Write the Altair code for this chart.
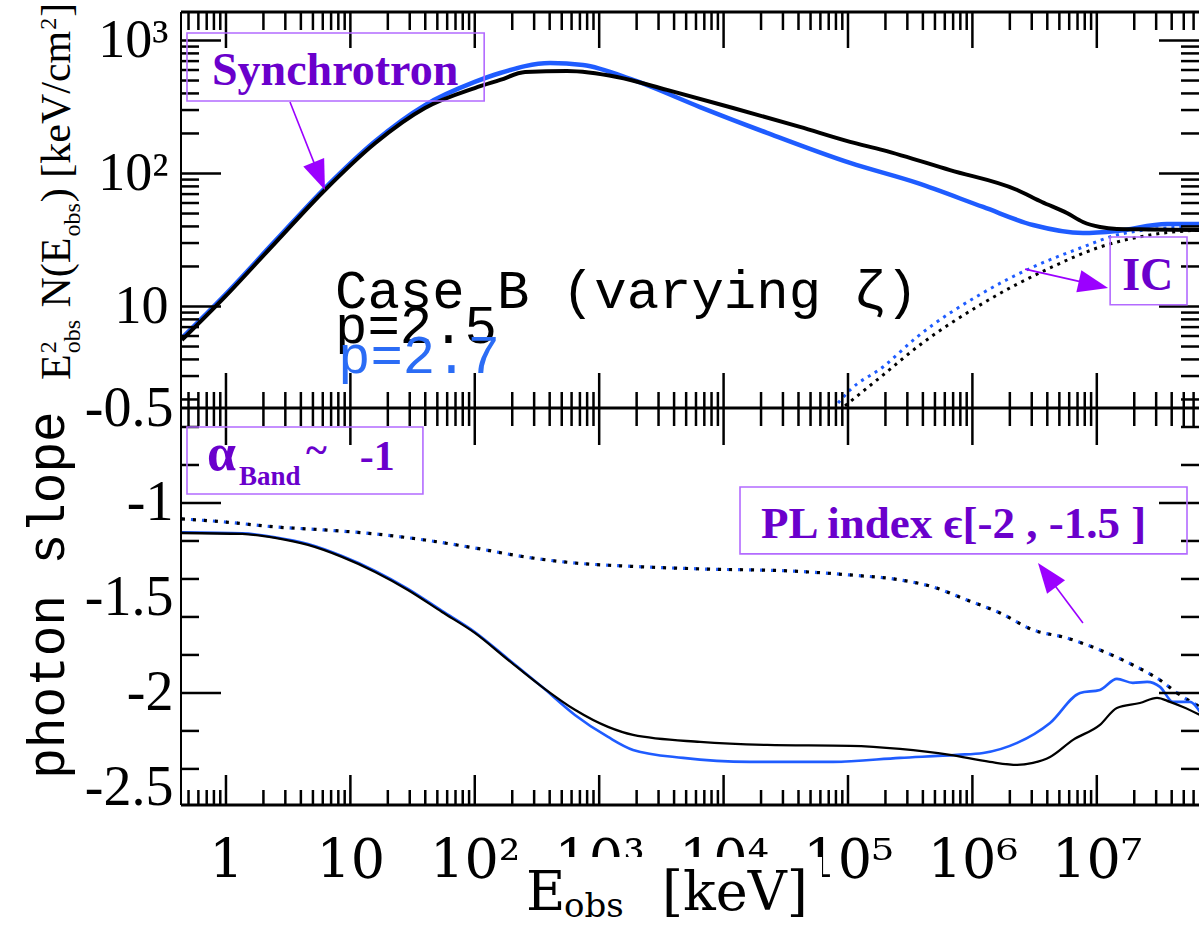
import altair as alt
import pandas as pd

# ---------------- axis ranges ----------------
E_MIN, E_MAX = 0.435, 6.63e7          # keV
F_MIN, F_MAX = 1.725, 1638.0          # keV/cm^2 (top panel)
S_MIN, S_MAX = -2.59, -0.5            # photon slope (bottom panel)

# ---------------- top panel: E^2 N(E) ----------------
SYN_BLACK_E = [0.443, 0.98, 2.48, 6.25, 15.8, 39.8, 100, 160, 254, 551, 1390, 3508, 11912,
               41115, 1.04e5, 1.91e5, 6.61e5, 2.29e6, 3.62e6, 5.75e6, 7.74e6, 1.06e7, 1.45e7,
               2.68e7, 6.76e7]
SYN_BLACK_F = [5.60, 11.8, 30.0, 75.2, 169, 311, 439, 505, 580, 590, 532, 425, 311,
               224, 173, 150, 106, 75.2, 61.1, 50.5, 43.2, 39.6, 38.3, 38.0, 37.6]
SYN_BLUE_E = [0.443, 0.98, 2.48, 6.25, 15.8, 39.8, 100, 160, 403, 741, 1871, 6457, 22336,
              1.04e5, 3.59e5, 1.22e6, 3.07e6, 7.74e6, 1.45e7, 3.66e7, 6.76e7]
SYN_BLUE_F = [5.80, 12.2, 31.0, 77.8, 175, 327, 488, 570, 678, 654, 505, 316, 202,
              120, 84.9, 56.0, 41.0, 35.7, 37.0, 41.7, 41.7]
IC_BLUE_E = [83176, 1.04e5, 1.91e5, 3.59e5, 1.22e6, 3.07e6, 7.74e6, 1.45e7, 4.93e7]
IC_BLUE_F = [1.88, 2.36, 3.51, 5.90, 12.7, 19.8, 28.0, 34.5, 39.6]
IC_BLACK_E = [94600, 1.91e5, 3.59e5, 1.22e6, 4.21e6, 1.06e7, 2.68e7, 6.76e7]
IC_BLACK_F = [1.79, 3.05, 4.95, 10.6, 19.5, 28.0, 34.5, 37.6]

# ---------------- bottom panel: photon slope ----------------
SL_BLACK_E = [0.443, 1.35, 2.48, 4.56, 8.55, 15.8, 29.0, 54.5, 100, 185, 347, 638, 1178, 1871,
              6457, 22336, 1.04e5, 2.62e5, 6.61e5, 1.38e6, 2.29e6, 3.07e6, 4.21e6, 6.44e6,
              1.06e7, 1.45e7, 2.22e7, 3.05e7, 3.87e7, 4.93e7, 6.76e7]
SL_BLACK_S = [-1.158, -1.163, -1.184, -1.221, -1.284, -1.363, -1.458, -1.574, -1.684, -1.826,
              -1.968, -2.089, -2.179, -2.221, -2.258, -2.274, -2.279, -2.295, -2.326, -2.363,
              -2.379, -2.368, -2.337, -2.247, -2.168, -2.079, -2.053, -2.026, -2.047, -2.074, -2.116]
SL_BLUE_E = [0.443, 1.35, 2.48, 4.56, 8.55, 15.8, 29.0, 54.5, 100, 185, 347, 638, 1178, 1871,
             4721, 16293, 75683, 2.62e5, 7.52e5, 1.22e6, 2.29e6, 4.21e6, 7.33e6, 1.06e7,
             1.45e7, 1.95e7, 2.54e7, 3.22e7, 4.10e7, 5.61e7, 6.76e7]
SL_BLUE_S = [-1.155, -1.160, -1.180, -1.216, -1.279, -1.357, -1.452, -1.568, -1.679, -1.821,
             -1.968, -2.116, -2.232, -2.300, -2.342, -2.363, -2.363, -2.342, -2.326, -2.316,
             -2.263, -2.158, -2.000, -1.984, -1.926, -1.947, -1.942, -1.968, -2.047, -2.047, -2.100]
SL_DOT_E = [0.443, 0.98, 2.48, 6.25, 15.8, 39.8, 100, 254, 638, 1611, 6457, 34198, 1.04e5,
            2.62e5, 4.82e5, 9.06e5, 1.67e6, 3.07e6, 5.75e6, 1.06e7, 1.95e7, 3.22e7, 4.42e7, 6.76e7]
SL_DOT_S = [-1.084, -1.100, -1.126, -1.142, -1.163, -1.195, -1.237, -1.284, -1.316, -1.332,
            -1.347, -1.358, -1.379, -1.405, -1.442, -1.511, -1.579, -1.668, -1.711, -1.774,
            -1.853, -1.932, -2.000, -2.074]

# ---------------- ticks and labels ----------------
X_MAJOR = [1, 10, 100, 1e3, 1e4, 1e5, 1e6, 1e7]
X_MINOR = [m * 10.0 ** n for n in range(-1, 8) for m in range(2, 10) if E_MIN <= m * 10.0 ** n <= E_MAX]
F_MAJOR = [10, 100, 1000]
F_MINOR = [m * 10.0 ** n for n in range(0, 4) for m in range(2, 10) if F_MIN <= m * 10.0 ** n <= F_MAX]
S_LABELS = [-0.5, -1.0, -1.5, -2.0, -2.5]
S_MAJOR = [-1.0, -2.0]
S_MINOR = [-0.6, -0.8, -1.2, -1.4, -1.6, -1.8, -2.2, -2.4]

# ---------------- annotations (data coordinates) ----------------
TOP_TEXT = [("Case B (varying ζ)", 7.52, 9.75, "black"),
            ("p=2.5", 7.52, 5.32, "black"),
            ("p=2.7", 7.95, 3.16, "#2b6cf5")]
TOP_BOXES = [(0.486, 119, 351, 1138), (1.28e7, 5.31e7, 10.3, 33.3)]
TOP_NOTES = [("Synchrotron", 0.772, 462), ("IC", 1.60e7, 13.3)]
TOP_ARROWS = [(3.27, 345, 5.63, 95.6, 158), (2.65e6, 19.1, 9.40e6, 14.6, 103)]
BOT_BOXES = [(0.486, 38.3, -0.953, -0.6), (13552, 5.31e7, -1.268, -0.916)]
BOT_NOTES = [("α", 0.704, -0.826, 52), ("Band", 1.27, -0.905, 27), ("~", 4.40, -0.79, 40),
             ("-1", 11.9, -0.826, 42), ("PL index ϵ[-2 , -1.5 ]", 19988, -1.184, 45)]
BOT_ARROWS = [(7.74e6, -1.632, 3.98e6, -1.379, 323)]

# ---------------- style / layout ----------------
BLUE = "#1f5cff"
P_TXT = "#6a00cc"
P_BOX = "#b36bff"
P_ARR = "#9b00ff"
W, HT, HB = 1018, 396, 397
TRI = "M0,-1L0.75,1L-0.75,1Z"

xs = alt.Scale(type="log", domain=[E_MIN, E_MAX], nice=False)
ysT = alt.Scale(type="log", domain=[F_MIN, F_MAX], nice=False)
ysB = alt.Scale(type="linear", domain=[S_MIN, S_MAX], nice=False, zero=False)

axT = alt.Axis(values=F_MAJOR, labelExpr="datum.value < 20 ? '10' : datum.value < 200 ? '10²' : '10³'",
               ticks=False, tickSize=0, domain=False, grid=False, title=None, labelFont="Liberation Serif",
               labelFontSize=54, labelColor="black", labelPadding=13, labelOverlap=False, labelFlush=False)
axB = alt.Axis(values=S_LABELS, labelExpr="'-' + format(-datum.value, '~g')",
               ticks=False, tickSize=0, domain=False, grid=False, title=None, labelFont="Liberation Serif",
               labelFontSize=56, labelColor="black", labelPadding=8, labelOverlap=False, labelFlush=False)
axX = alt.Axis(values=X_MAJOR, orient="bottom",
               labelExpr="datum.value < 2 ? '1' : datum.value < 20 ? '10' : datum.value < 200 ? '10²' : "
                         "datum.value < 2000 ? '10³' : datum.value < 2e4 ? '10⁴' : datum.value < 2e5 ? '10⁵' : "
                         "datum.value < 2e6 ? '10⁶' : '10⁷'",
               ticks=False, tickSize=0, domain=False, grid=False, title=None, labelFont="DejaVu Serif",
               labelFontSize=54, labelColor="black", labelPadding=29, labelOverlap=False, labelFlush=False)

XT = alt.X("E:Q", scale=xs, axis=None)
XB = alt.X("E:Q", scale=xs, axis=axX)
YT = alt.Y("F:Q", scale=ysT, axis=axT)
YB = alt.Y("S:Q", scale=ysB, axis=axB)
ONE = pd.DataFrame({"k": [0]})


def curve(E, V, X, Y, vname, color, width, dash=None, offset=None):
    kw = dict(color=color, strokeWidth=width, clip=True, interpolate="monotone")
    if dash:
        kw["strokeDash"] = dash
        kw["strokeCap"] = "butt"
    if offset:
        kw["strokeDashOffset"] = offset
    return alt.Chart(pd.DataFrame({"E": E, vname: V})).mark_line(**kw).encode(x=X, y=Y)


def xticks(X, vals, y0, y1):
    return alt.Chart(pd.DataFrame({"E": vals})).mark_rule(color="black", strokeWidth=2.5).encode(
        x=X, y=alt.value(y0), y2=alt.value(y1))


def yticks(Y, vname, vals, x0, x1):
    return alt.Chart(pd.DataFrame({vname: vals})).mark_rule(color="black", strokeWidth=2.5).encode(
        y=Y, x=alt.value(x0), x2=alt.value(x1))


def hline(y, sw):
    return alt.Chart(ONE).mark_rule(color="black", strokeWidth=sw).encode(
        x=alt.value(0), x2=alt.value(W), y=alt.value(y))


def vline(h, sw):
    return alt.Chart(ONE).mark_rule(color="black", strokeWidth=sw).encode(
        x=alt.value(0), y=alt.value(0), y2=alt.value(h))


def boxes(rows, X, Y, vname):
    d = pd.DataFrame({"E": [r[0] for r in rows], "E2": [r[1] for r in rows],
                      vname: [r[2] for r in rows], vname + "2": [r[3] for r in rows]})
    return alt.Chart(d).mark_rect(filled=False, color=P_BOX, strokeWidth=1.6).encode(
        x=X, x2="E2:Q", y=Y, y2=vname + "2:Q")


def arrows(rows, X, Y, vname):
    d = pd.DataFrame({"E": [r[0] for r in rows], vname: [r[1] for r in rows],
                      "E2": [r[2] for r in rows], vname + "2": [r[3] for r in rows]})
    out = [alt.Chart(d).mark_rule(color=P_ARR, strokeWidth=1.6).encode(
        x=X, y=Y, x2="E2:Q", y2=vname + "2:Q")]
    for r in rows:
        out.append(alt.Chart(pd.DataFrame({"E": [r[2]], vname: [r[3]]})).mark_point(
            shape=TRI, filled=True, size=900, color=P_ARR, opacity=1, angle=r[4]).encode(x=X, y=Y))
    return out


def txt(text, x, y, font, size, color="black", weight="normal", angle=0, align="left"):
    kw = dict(font=font, fontSize=size, color=color, fontWeight=weight, align=align, baseline="alphabetic")
    if angle:
        kw["angle"] = angle
    return alt.Chart(pd.DataFrame({"t": [text]})).mark_text(**kw).encode(
        x=alt.value(x), y=alt.value(y), text="t:N")


# ---------------- top panel ----------------
top_layers = [
    curve(IC_BLUE_E, IC_BLUE_F, XT, YT, "F", BLUE, 3, dash=[3, 5]),
    curve(IC_BLACK_E, IC_BLACK_F, XT, YT, "F", "black", 3, dash=[3, 5]),
    curve(SYN_BLUE_E, SYN_BLUE_F, XT, YT, "F", BLUE, 4.5),
    curve(SYN_BLACK_E, SYN_BLACK_F, XT, YT, "F", "black", 4),
    xticks(XT, X_MINOR, 0, 18), xticks(XT, X_MAJOR, 0, 36),
    xticks(XT, X_MINOR, HT, HT - 16), xticks(XT, X_MAJOR, HT, HT - 35),
    yticks(YT, "F", F_MINOR, 0, 18), yticks(YT, "F", F_MAJOR, 0, 40),
    yticks(YT, "F", F_MINOR, W, W - 18), yticks(YT, "F", F_MAJOR, W, W - 40),
    hline(0, 3), hline(HT, 3), vline(HT, 2),
    boxes(TOP_BOXES, XT, YT, "F"),
]
top_layers += arrows(TOP_ARROWS, XT, YT, "F")
for t, e, f, c in TOP_TEXT:
    top_layers.append(alt.Chart(pd.DataFrame({"E": [e], "F": [f], "t": [t]})).mark_text(
        font="Liberation Mono", fontSize=54, color=c, align="left", baseline="alphabetic").encode(
        x=XT, y=YT, text="t:N"))
for t, e, f in TOP_NOTES:
    top_layers.append(alt.Chart(pd.DataFrame({"E": [e], "F": [f], "t": [t]})).mark_text(
        font="Liberation Serif", fontSize=46, fontWeight="bold", color=P_TXT, align="left",
        baseline="alphabetic").encode(x=XT, y=YT, text="t:N"))

# rotated y title of the top panel, built from pieces (sub/superscripts)
EM = {'E': 0.611, 'N': 0.722, '(': 0.333, ')': 0.333, ' ': 0.25, '[': 0.333, ']': 0.333, 'k': 0.5,
      'e': 0.444, 'V': 0.722, '/': 0.278, 'c': 0.444, 'm': 0.778, 'o': 0.5, 'b': 0.5, 's': 0.389, '2': 0.5}
FM, FS = 42, 24
XM, XSUB, XSUP = -111, -101, -125


def L(s, size):
    return sum(EM[ch] for ch in s) * size


pos = 368
pieces = []
pieces.append(("E", XM, pos, FM)); pos -= L("E", FM) + 1
pieces.append(("2", XSUP, pos, FS)); pieces.append(("obs", XSUB, pos, FS)); pos -= L("obs", FS) + 2
pos -= L(" ", FM)
pieces.append(("N(E", XM, pos, FM)); pos -= L("N(E", FM) + 1
pieces.append(("obs", XSUB, pos, FS)); pos -= L("obs", FS) + 1
pieces.append((") [keV/cm", XM, pos, FM)); pos -= L(") [keV/cm", FM) + 1
pieces.append(("2", XSUP, pos, FS)); pos -= L("2", FS) + 1
pieces.append(("]", XM, pos, FM))
for s, x, y, size in pieces:
    top_layers.append(txt(s, x, y, "Liberation Serif", size, angle=270))

# white anchor that fixes the outer margin (left and top)
top_layers.append(alt.Chart(ONE).mark_rule(color="white", strokeWidth=1).encode(
    x=alt.value(-180.5), y=alt.value(-11.5), y2=alt.value(0)))

top = alt.layer(*top_layers).properties(width=W, height=HT)

# ---------------- bottom panel ----------------
bot_layers = [
    curve(SL_DOT_E, SL_DOT_S, XB, YB, "S", BLUE, 3.2, dash=[3, 8], offset=2),
    curve(SL_DOT_E, SL_DOT_S, XB, YB, "S", "black", 3.2, dash=[3, 8]),
    curve(SL_BLUE_E, SL_BLUE_S, XB, YB, "S", BLUE, 2.6),
    curve(SL_BLACK_E, SL_BLACK_S, XB, YB, "S", "black", 2.3),
    xticks(XB, X_MINOR, 0, 18), xticks(XB, X_MAJOR, 0, 37),
    xticks(XB, X_MINOR, HB, HB - 15), xticks(XB, X_MAJOR, HB, HB - 30),
    yticks(YB, "S", S_MINOR, 0, 18), yticks(YB, "S", S_MAJOR, 0, 40),
    yticks(YB, "S", S_MINOR, W, W - 18), yticks(YB, "S", S_MAJOR, W, W - 40),
    hline(HB, 3), vline(HB, 2),
    boxes(BOT_BOXES, XB, YB, "S"),
]
bot_layers += arrows(BOT_ARROWS, XB, YB, "S")
for t, e, s, size in BOT_NOTES:
    bot_layers.append(alt.Chart(pd.DataFrame({"E": [e], "S": [s], "t": [t]})).mark_text(
        font="Liberation Serif", fontSize=size, fontWeight="bold", color=P_TXT, align="left",
        baseline="alphabetic").encode(x=XB, y=YB, text="t:N"))

bot_layers.append(txt("photon slope", -117, 187, "Liberation Mono", 51, angle=270, align="center"))
# white patch behind the x title (it hides the lower half of two tick labels, as in the figure)
bot_layers.append(alt.Chart(ONE).mark_rect(color="white").encode(
    x=alt.value(351), x2=alt.value(641), y=alt.value(449), y2=alt.value(517)))
bot_layers.append(txt("E", 345, 502, "DejaVu Serif", 54))
bot_layers.append(txt("obs", 383, 509, "DejaVu Serif", 34))
bot_layers.append(txt("[keV]", 481, 502, "DejaVu Serif", 54))

bot = alt.layer(*bot_layers).properties(width=W, height=HB)

chart = alt.vconcat(top, bot, spacing=0, bounds="flush").properties(
    padding={"left": 0, "top": 0, "right": 0, "bottom": 0}, background="white"
).configure_view(stroke=None)

chart.save("out.html", embed_options={"renderer": "svg", "actions": False})
